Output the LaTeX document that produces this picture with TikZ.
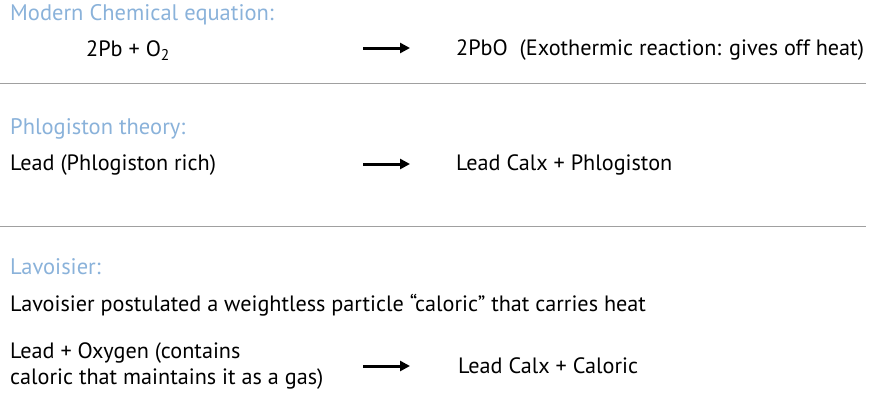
\documentclass[tikz,border=0pt]{standalone}
\usepackage{fontspec}
\setmainfont{PT Sans}
\usetikzlibrary{arrows.meta}
\definecolor{titleblue}{HTML}{8AB2DA}
\definecolor{rulegray}{HTML}{A0A0A0}
\tikzset{
  title/.style={anchor=west, inner sep=0pt, text=titleblue, font=\fontsize{22.5}{26}\selectfont},
  body/.style={anchor=west, inner sep=0pt, font=\fontsize{22.2}{26}\selectfont},
  react/.style={line width=3pt, -{Triangle[length=10pt,width=10pt]}},
  divider/.style={rulegray, line width=1pt}
}
\begin{document}
\begin{tikzpicture}[x=1pt,y=-1pt]
\useasboundingbox (0,0) rectangle (873,405);
% modern equation
\node[title] (modern) at (10,15) {Modern Chemical equation:};
\node[body] (lhsa) at (86,51) {2Pb + O\textsubscript{2}};
\node[body] (rhsa) at (456,50) {2PbO\ \ (Exothermic reaction: gives off heat)};
\coordinate (arra) at (363,48); \coordinate (arrb) at (410,48);
\draw[react] (arra) -- (arrb);
\coordinate (ruleal) at (0,83); \coordinate (rulear) at (866,83);
\draw[divider] (ruleal) -- (rulear);
% phlogiston
\node[title] (phlog) at (10,129) {Phlogiston theory:};
\node[body] (lhsb) at (10,165) {Lead (Phlogiston rich)};
\node[body] (rhsb) at (456,165) {Lead Calx + Phlogiston};
\coordinate (arrc) at (363,164); \coordinate (arrd) at (410,164);
\draw[react] (arrc) -- (arrd);
\coordinate (rulebl) at (0,226); \coordinate (rulebr) at (866,226);
\draw[divider] (rulebl) -- (rulebr);
% lavoisier
\node[title] (lavo) at (10,267) {Lavoisier:};
\node[body] (claim) at (10,305) {Lavoisier postulated a weightless particle “caloric” that carries heat};
\node[body, align=left, font=\fontsize{22.2}{26}\selectfont] (lhsc) at (10,366) {Lead + Oxygen (contains\\caloric that maintains it as a gas)};
\node[body] (rhsc) at (458,366) {Lead Calx + Caloric};
\coordinate (arre) at (363,366); \coordinate (arrf) at (410,366);
\draw[react] (arre) -- (arrf);
\end{tikzpicture}
\end{document}
